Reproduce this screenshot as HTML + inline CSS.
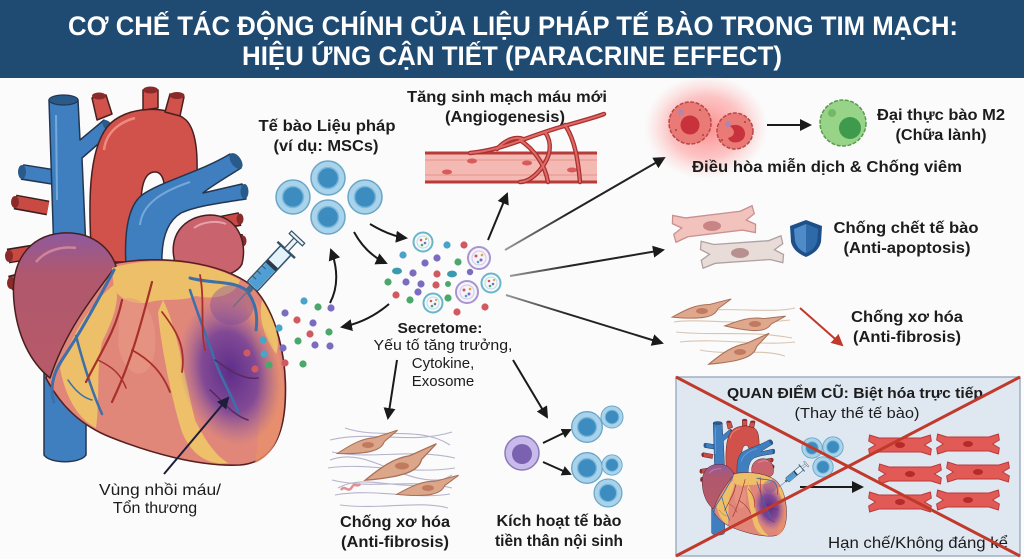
<!DOCTYPE html>
<html><head><meta charset="utf-8">
<style>
html,body{margin:0;padding:0;background:#fbfbfb;}
svg{display:block;}
.t{font-family:"Liberation Sans","Noto Sans CJK SC",sans-serif;fill:#1c1c1c;}
.b{font-weight:bold;}
</style></head>
<body>
<svg width="1024" height="559" viewBox="0 0 1024 559" xmlns="http://www.w3.org/2000/svg">
<defs>
  <marker id="ah" markerWidth="12" markerHeight="12" refX="10" refY="6" orient="auto" markerUnits="userSpaceOnUse"><path d="M0,0 L12,6 L0,12 Z" fill="#1a1a1a"/></marker>
  <marker id="ahs" markerWidth="10" markerHeight="10" refX="8" refY="5" orient="auto" markerUnits="userSpaceOnUse"><path d="M0,0 L10,5 L0,10 Z" fill="#1a1a1a"/></marker>
  <marker id="ahr" markerWidth="12" markerHeight="12" refX="10" refY="6" orient="auto" markerUnits="userSpaceOnUse"><path d="M0,0 L12,6 L0,12 Z" fill="#c0392b"/></marker>
  <marker id="ahn" markerWidth="12" markerHeight="12" refX="10" refY="6" orient="auto" markerUnits="userSpaceOnUse"><path d="M0,0 L12,6 L0,12 Z" fill="#1e1e3a"/></marker>
  <radialGradient id="purp" cx="0.5" cy="0.5" r="0.5">
    <stop offset="0" stop-color="#55288a" stop-opacity="0.95"/>
    <stop offset="0.55" stop-color="#6a3a9c" stop-opacity="0.8"/>
    <stop offset="1" stop-color="#8a5aa8" stop-opacity="0"/>
  </radialGradient>
  <radialGradient id="glow" cx="0.5" cy="0.5" r="0.5">
    <stop offset="0" stop-color="#ff4040" stop-opacity="0.6"/>
    <stop offset="0.6" stop-color="#ff6060" stop-opacity="0.35"/>
    <stop offset="1" stop-color="#ff9090" stop-opacity="0"/>
  </radialGradient>
  <linearGradient id="ra" x1="0" y1="0" x2="0" y2="1">
    <stop offset="0" stop-color="#8e5a9e"/>
    <stop offset="0.28" stop-color="#b0586e"/>
    <stop offset="1" stop-color="#b85a68"/>
  </linearGradient>
  <linearGradient id="fadeA" x1="0" y1="0" x2="1" y2="0">
    <stop offset="0" stop-color="#999"/>
    <stop offset="0.4" stop-color="#222"/>
  </linearGradient>
  <path id="myo" d="M-22,-7 L22,-7 L32,-10 L33,-4 L26,0 L33,4 L32,10 L22,7 L-22,7 L-32,10 L-33,4 L-26,0 L-33,-4 L-32,-10 Z"/>
  <path id="spin" d="M-30,3 C-15,-4 -5,-8 8,-7 L30,-11 L16,-2 C12,6 0,8 -30,3 Z"/>
  <g id="syr">
    <line x1="0" y1="0" x2="24" y2="0" stroke="#6a7080" stroke-width="1.3"/>
    <rect x="22" y="-3" width="7" height="6" fill="#4a6a8a"/>
    <rect x="28" y="-7" width="50" height="14" rx="2" fill="#e4f2fa" stroke="#34546e" stroke-width="1.5"/>
    <rect x="29" y="-6" width="27" height="12" fill="#4f9fd4"/>
    <rect x="55" y="-6.5" width="4" height="13" fill="#2a3a4a"/>
    <line x1="36" y1="-7" x2="36" y2="-2" stroke="#34546e"/><line x1="43" y1="-7" x2="43" y2="-2" stroke="#34546e"/><line x1="50" y1="-7" x2="50" y2="-2" stroke="#34546e"/>
    <line x1="78" y1="-12" x2="78" y2="12" stroke="#34546e" stroke-width="2.5"/>
    <rect x="78" y="-2.5" width="15" height="5" fill="#eef3f7" stroke="#34546e" stroke-width="1.2"/>
    <rect x="92" y="-9" width="3.5" height="18" fill="#eef3f7" stroke="#34546e" stroke-width="1.2"/>
  </g>
  <g id="tcell">
    <circle r="17" fill="#a9d3ea" stroke="#6aa6c8" stroke-width="1.5"/>
    <circle r="10.5" fill="#3d8cc0" stroke="#7ab8dc" stroke-width="1.5"/>
  </g>
  <g id="ves">
    <circle r="9.5" fill="#f6f9fb" stroke="#6ab6c8" stroke-width="2"/>
    <circle r="6" fill="none" stroke="#b6dce6" stroke-width="1"/>
    <circle cx="-2" cy="-2" r="1.3" fill="#d05a60"/><circle cx="2" cy="1" r="1.3" fill="#7b6cc0"/><circle cx="-1" cy="3" r="1.3" fill="#4aa86a"/><circle cx="3" cy="-3" r="1.1" fill="#e0a040"/>
  </g>
  <g id="vesp">
    <circle r="11" fill="#f6f3fb" stroke="#a894d0" stroke-width="2"/>
    <circle r="7" fill="none" stroke="#d0c6e6" stroke-width="1"/>
    <circle cx="-3" cy="-2" r="1.5" fill="#d05a60"/><circle cx="2" cy="2" r="1.5" fill="#7b6cc0"/><circle cx="-1" cy="4" r="1.3" fill="#4aa3c8"/><circle cx="3" cy="-3" r="1.3" fill="#e0a040"/>
  </g>
</defs>

<!-- Header -->
<rect x="0" y="0" width="1024" height="78" fill="#1f4b73"/>
<text class="t b" x="513" y="35" text-anchor="middle" font-size="27" style="fill:#fff" textLength="890" lengthAdjust="spacingAndGlyphs">CƠ CHẾ TÁC ĐỘNG CHÍNH CỦA LIỆU PHÁP TẾ BÀO TRONG TIM MẠCH:</text>
<text class="t b" x="512" y="65" text-anchor="middle" font-size="27" style="fill:#fff" textLength="540" lengthAdjust="spacingAndGlyphs">HIỆU ỨNG CẬN TIẾT (PARACRINE EFFECT)</text>

<!-- ============ HEART ============ -->
<g id="heart" stroke-linejoin="round">
  <!-- IVC -->
  <path d="M44,360 L44,455 C50,464 80,464 86,455 L86,360 Z" fill="#3f7fc0" stroke="#243650" stroke-width="1.5"/>
  <!-- left pulmonary veins / branches -->
  <g stroke="#3a1e1e" stroke-width="15"><line x1="48" y1="208" x2="15" y2="202"/><line x1="45" y1="250" x2="8" y2="256"/><line x1="45" y1="274" x2="10" y2="283"/></g>
  <g stroke="#c94a43" stroke-width="12"><line x1="48" y1="208" x2="16" y2="202"/><line x1="45" y1="250" x2="9" y2="256"/><line x1="45" y1="274" x2="11" y2="283"/></g>
  <ellipse cx="15" cy="202" rx="4" ry="6" fill="#8a2a2a"/><ellipse cx="9" cy="256" rx="4" ry="6" fill="#8a2a2a"/><ellipse cx="11" cy="283" rx="4" ry="6" fill="#8a2a2a"/>
  <line x1="60" y1="178" x2="22" y2="172" stroke="#243650" stroke-width="16"/>
  <line x1="60" y1="178" x2="23" y2="172" stroke="#3f7fc0" stroke-width="13"/>
  <ellipse cx="22" cy="172" rx="4" ry="7" fill="#2a5a8a"/>
  <!-- right pulmonary veins -->
  <g stroke="#3a1e1e" stroke-width="14"><line x1="200" y1="227" x2="240" y2="219"/><line x1="205" y1="242" x2="243" y2="241"/></g>
  <g stroke="#c94a43" stroke-width="11"><line x1="200" y1="227" x2="239" y2="219"/><line x1="205" y1="242" x2="242" y2="241"/></g>
  <ellipse cx="240" cy="219" rx="3.5" ry="5.5" fill="#8a2a2a"/><ellipse cx="243" cy="241" rx="3.5" ry="5.5" fill="#8a2a2a"/>
  <!-- SVC -->
  <path d="M49,100 L78,100 L80,140 L104,120 L112,132 L82,158 L86,250 L54,255 Z" fill="#3f7fc0" stroke="#243650" stroke-width="1.5"/>
  <ellipse cx="63.5" cy="100" rx="14.5" ry="5" fill="#2a5a8a" stroke="#243650" stroke-width="1.2"/>
  <ellipse cx="108" cy="126" rx="4" ry="7" transform="rotate(-40 108 126)" fill="#2a5a8a"/>
  <path d="M56,115 L57,200" stroke="#8bbbe6" stroke-width="2" fill="none" opacity="0.7"/>
  <!-- Aorta -->
  <path d="M92,262 C88,205 88,150 108,126 C125,106 168,104 186,120 C199,133 198,165 196,205 L164,208 C166,185 164,172 155,172 C145,172 141,185 141,205 L141,262 Z" fill="#d0524a" stroke="#4a1e1e" stroke-width="1.5"/>
  <path d="M97,120 L92,98 L106,95 L112,114 Z" fill="#d0524a" stroke="#4a1e1e" stroke-width="1.5"/>
  <ellipse cx="99" cy="96" rx="7" ry="3.5" fill="#8a2a2a"/>
  <path d="M143,110 L143,90 L158,90 L158,108 Z" fill="#d0524a" stroke="#4a1e1e" stroke-width="1.5"/>
  <ellipse cx="150.5" cy="90" rx="7.5" ry="3.5" fill="#8a2a2a"/>
  <path d="M165,112 L170,94 L184,97 L180,116 Z" fill="#d0524a" stroke="#4a1e1e" stroke-width="1.5"/>
  <ellipse cx="177" cy="95.5" rx="7.5" ry="3.5" fill="#8a2a2a"/>
  <path d="M104,150 C106,132 120,122 135,118" stroke="#f08a80" stroke-width="2.5" fill="none"/>
  <!-- Pulmonary trunk -->
  <path d="M126,266 C124,232 128,206 142,195 C162,181 200,172 230,154 L241,168 C222,180 210,187 203,193 L242,184 L246,199 C220,203 196,206 181,213 C166,222 161,242 162,266 Z" fill="#3f7fc0" stroke="#243650" stroke-width="1.5"/>
  <ellipse cx="236" cy="161" rx="5" ry="9" transform="rotate(-35 236 161)" fill="#2a5a8a"/>
  <ellipse cx="244.5" cy="191.5" rx="4" ry="7.5" fill="#2a5a8a"/>
  <path d="M140,225 C142,205 160,192 190,182" stroke="#8bbbe6" stroke-width="2" fill="none" opacity="0.7"/>
  <!-- Left atrium -->
  <path d="M176,266 C166,236 184,216 210,215 C236,215 248,240 242,264 C234,280 194,282 176,266 Z" fill="#c9646e" stroke="#4a1e1e" stroke-width="1.5"/>
  <path d="M194,228 C202,222 216,220 226,224" stroke="#e8a0a8" stroke-width="2" fill="none"/>
  <!-- Ventricles -->
  <path d="M112,264 C160,254 222,262 252,286 C277,311 288,360 285,405 C282,445 266,463 240,465 C200,467 150,453 110,437 C80,425 60,405 46,378 C60,330 86,292 112,264 Z" fill="#e0877a" stroke="#5a1e1e" stroke-width="1.6"/>
  <path d="M240,285 C262,300 280,340 284,390 C285,430 275,455 255,463 C262,420 262,360 240,285 Z" fill="#e9906c" opacity="0.8"/>
  <!-- Right atrium -->
  <path d="M14,302 C10,262 28,236 62,233 C92,231 110,248 116,266 C92,298 66,330 50,378 C30,362 17,335 14,302 Z" fill="url(#ra)" stroke="#4a1e1e" stroke-width="1.5"/>
  <path d="M36,262 C46,250 62,246 76,248" stroke="#d890a0" stroke-width="2.5" fill="none" opacity="0.8"/>
  <!-- fat -->
  <g fill="#efc468" opacity="0.92">
    <path d="M112,268 C150,256 205,260 240,280 C236,296 215,300 196,296 C180,302 165,298 150,302 C135,306 122,300 114,290 Z"/>
    <path d="M60,368 C74,330 94,300 115,284 C121,300 112,322 102,342 C96,370 100,400 96,428 C80,420 66,400 60,368 Z"/>
    <path d="M163,300 C178,330 185,380 195,420 C205,440 215,455 228,463 C206,466 190,452 182,432 C172,402 160,340 158,312 Z"/>
    <path d="M262,300 C276,322 281,342 276,354 C265,338 258,320 262,300 Z"/>
  </g>
  <path d="M120,300 C140,292 158,310 155,350 C150,385 125,380 118,345 Z" fill="#e99a84" opacity="0.6"/>
  <!-- infarct -->
  <ellipse cx="230" cy="372" rx="50" ry="74" transform="rotate(-12 230 372)" fill="url(#purp)"/>
  <ellipse cx="232" cy="305" rx="22" ry="20" fill="#7a4a9c" opacity="0.4"/>
  <!-- coronary vessels -->
  <g fill="none" stroke-linecap="round">
    <path d="M114,270 C98,300 82,330 62,360 C52,375 50,390 54,402" stroke="#3d6fa8" stroke-width="3"/>
    <path d="M76,336 C84,366 92,392 102,414" stroke="#3d6fa8" stroke-width="2.5"/>
    <path d="M190,278 C212,284 232,280 246,290 C256,302 258,316 256,330" stroke="#3d6fa8" stroke-width="3"/>
    <path d="M190,290 C198,315 206,335 212,352 C220,378 232,395 238,412" stroke="#3d6fa8" stroke-width="2.5"/>
    <path d="M122,300 C116,330 102,350 86,382" stroke="#a8302a" stroke-width="2.2"/>
    <path d="M152,282 C142,320 132,360 112,402" stroke="#a8302a" stroke-width="2.2"/>
    <path d="M132,350 C150,360 162,372 170,392" stroke="#a8302a" stroke-width="1.8"/>
    <path d="M162,312 C176,330 186,346 182,372" stroke="#a8302a" stroke-width="1.8"/>
    <path d="M200,275 C205,300 200,330 205,350" stroke="#a8302a" stroke-width="1.8"/>
    <path d="M215,360 C232,372 244,380 258,378" stroke="#5a2a60" stroke-width="1.6"/>
    <path d="M210,390 C222,400 232,415 248,420" stroke="#5a2a60" stroke-width="1.6"/>
    <path d="M98,360 C110,366 120,372 126,388" stroke="#a8302a" stroke-width="1.5"/>
    <path d="M68,380 C76,392 84,398 92,400" stroke="#3d6fa8" stroke-width="1.5"/>
  </g>
</g>

<!-- syringe -->
<use href="#syr" transform="translate(233,307) rotate(-47)"/>

<!-- infarct label -->
<line x1="164" y1="474" x2="228" y2="398" stroke="#1e1e3a" stroke-width="2" marker-end="url(#ahn)"/>
<text class="t" x="160" y="495" text-anchor="middle" font-size="16" textLength="122" lengthAdjust="spacingAndGlyphs">Vùng nhồi máu/</text>
<text class="t" x="155" y="513" text-anchor="middle" font-size="16">Tổn thương</text>

<!-- dots near heart -->
<g>
  <circle cx="304" cy="301" r="3.6" fill="#4aa3c8"/><circle cx="318" cy="307" r="3.6" fill="#4aa86a"/><circle cx="331" cy="308" r="3.6" fill="#7b6cc0"/>
  <circle cx="285" cy="313" r="3.6" fill="#7b6cc0"/><circle cx="297" cy="320" r="3.6" fill="#d05a60"/><circle cx="313" cy="323" r="3.6" fill="#7b6cc0"/>
  <circle cx="279" cy="328" r="3.6" fill="#4aa3c8"/><circle cx="310" cy="334" r="3.6" fill="#d05a60"/><circle cx="329" cy="332" r="3.6" fill="#4aa86a"/>
  <circle cx="263" cy="340" r="3.6" fill="#4aa3c8"/><circle cx="298" cy="341" r="3.6" fill="#4aa86a"/><circle cx="315" cy="345" r="3.6" fill="#7b6cc0"/>
  <circle cx="330" cy="346" r="3.6" fill="#7b6cc0"/><circle cx="283" cy="348" r="3.6" fill="#7b6cc0"/><circle cx="247" cy="353" r="3.6" fill="#d05a60"/>
  <circle cx="264" cy="354" r="3.6" fill="#4aa3c8"/><circle cx="255" cy="369" r="3.6" fill="#d05a60"/><circle cx="269" cy="365" r="3.6" fill="#4aa86a"/>
  <circle cx="285" cy="363" r="3.6" fill="#d05a60"/><circle cx="303" cy="364" r="3.6" fill="#4aa86a"/>
</g>

<!-- Therapeutic cells -->
<text class="t b" x="327" y="131" text-anchor="middle" font-size="16" textLength="137" lengthAdjust="spacingAndGlyphs">Tế bào Liệu pháp</text>
<text class="t b" x="326" y="151" text-anchor="middle" font-size="16" textLength="105" lengthAdjust="spacingAndGlyphs">(ví dụ: MSCs)</text>
<use href="#tcell" transform="translate(293,197)"/>
<use href="#tcell" transform="translate(328,178)"/>
<use href="#tcell" transform="translate(365,197)"/>
<use href="#tcell" transform="translate(328,217)"/>

<!-- curved arrows around cells -->
<g fill="none" stroke="#1a1a1a" stroke-width="2">
  <path d="M370,224 Q390,236 406,238" marker-end="url(#ah)"/>
  <path d="M354,232 Q366,254 386,263" marker-end="url(#ah)"/>
  <path d="M330,303 Q342,280 331,250" marker-end="url(#ah)"/>
  <path d="M389,304 Q368,322 342,327" marker-end="url(#ah)"/>
</g>

<!-- Secretome cloud -->
<g>
  <use href="#ves" transform="translate(423,242)"/>
  <use href="#vesp" transform="translate(479,258)"/>
  <use href="#ves" transform="translate(491,283)"/>
  <use href="#vesp" transform="translate(467,292)"/>
  <use href="#ves" transform="translate(433,303)"/>
  <circle cx="447" cy="245" r="3.6" fill="#4aa3c8"/><circle cx="464" cy="245" r="3.6" fill="#d05a60"/>
  <circle cx="403" cy="255" r="3.6" fill="#4aa3c8"/><circle cx="437" cy="258" r="3.6" fill="#7b6cc0"/>
  <circle cx="425" cy="263" r="3.6" fill="#7b6cc0"/><circle cx="458" cy="262" r="3.6" fill="#4aa86a"/>
  <ellipse cx="397" cy="271" rx="5" ry="3.4" fill="#3a9ab0"/><circle cx="413" cy="273" r="3.6" fill="#7b6cc0"/>
  <circle cx="437" cy="274" r="3.6" fill="#d05a60"/><ellipse cx="452" cy="274" rx="5" ry="3.4" fill="#3a9ab0"/>
  <circle cx="388" cy="282" r="3.6" fill="#4aa86a"/><circle cx="406" cy="282" r="3.6" fill="#7b6cc0"/>
  <circle cx="421" cy="284" r="3.6" fill="#7b6cc0"/><circle cx="436" cy="285" r="3.6" fill="#d05a60"/>
  <circle cx="396" cy="295" r="3.6" fill="#d05a60"/><circle cx="410" cy="300" r="3.6" fill="#4aa86a"/>
  <circle cx="448" cy="298" r="3.6" fill="#4aa86a"/><circle cx="418" cy="292" r="3.6" fill="#7b6cc0"/>
  <circle cx="457" cy="312" r="3.6" fill="#d05a60"/><circle cx="485" cy="307" r="3.6" fill="#d05a60"/>
  <circle cx="470" cy="272" r="3.2" fill="#7b6cc0"/><circle cx="448" cy="284" r="3" fill="#4aa86a"/>
</g>
<text class="t b" x="440" y="333" text-anchor="middle" font-size="15" textLength="85" lengthAdjust="spacingAndGlyphs">Secretome:</text>
<text class="t" x="443" y="350" text-anchor="middle" font-size="15" textLength="139" lengthAdjust="spacingAndGlyphs">Yếu tố tăng trưởng,</text>
<text class="t" x="443" y="368" text-anchor="middle" font-size="15">Cytokine,</text>
<text class="t" x="443" y="386" text-anchor="middle" font-size="15">Exosome</text>

<!-- arrows from secretome -->
<g fill="none" stroke-width="2">
  <line x1="488" y1="240" x2="507" y2="194" stroke="#1a1a1a" marker-end="url(#ah)"/>
  <line x1="505" y1="250" x2="664" y2="158" stroke="url(#fadeA)" marker-end="url(#ah)"/>
  <line x1="510" y1="276" x2="663" y2="250" stroke="url(#fadeA)" marker-end="url(#ah)"/>
  <line x1="506" y1="295" x2="662" y2="343" stroke="url(#fadeA)" marker-end="url(#ah)"/>
  <line x1="397" y1="360" x2="388" y2="418" stroke="#1a1a1a" marker-end="url(#ah)"/>
  <line x1="513" y1="360" x2="547" y2="417" stroke="#1a1a1a" marker-end="url(#ah)"/>
</g>

<!-- Angiogenesis -->
<text class="t b" x="507" y="102" text-anchor="middle" font-size="16" textLength="200" lengthAdjust="spacingAndGlyphs">Tăng sinh mạch máu mới</text>
<text class="t b" x="505" y="122" text-anchor="middle" font-size="16" textLength="120" lengthAdjust="spacingAndGlyphs">(Angiogenesis)</text>
<rect x="425" y="153" width="172" height="29" fill="#f4b9b2"/>
<line x1="425" y1="160" x2="597" y2="160" stroke="#e8a09a" stroke-width="1.5"/>
<line x1="425" y1="175" x2="597" y2="175" stroke="#e8a09a" stroke-width="1.5"/>
<line x1="425" y1="153" x2="597" y2="153" stroke="#b83b3b" stroke-width="3"/>
<line x1="425" y1="182" x2="597" y2="182" stroke="#b83b3b" stroke-width="3"/>
<g fill="#d85a5a"><ellipse cx="447" cy="172" rx="5" ry="2.5"/><ellipse cx="472" cy="161" rx="5" ry="2.5"/><ellipse cx="527" cy="163" rx="5" ry="2.5"/><ellipse cx="572" cy="170" rx="5" ry="2.5"/></g>
<g fill="none" stroke-linecap="round">
  <g stroke="#a83030" stroke-width="4.5">
    <path d="M470,153 C500,150 520,140 545,132 C565,125 588,120 604,114"/>
    <path d="M497,149 C505,140 515,136 523,139"/>
    <path d="M520,140 C535,150 545,165 548,182"/>
    <path d="M545,132 C552,142 552,155 540,170 C533,178 526,182 520,182"/>
    <path d="M565,125 C575,140 578,160 580,182"/>
  </g>
  <g stroke="#e06a66" stroke-width="2">
    <path d="M470,153 C500,150 520,140 545,132 C565,125 588,120 604,114"/>
    <path d="M497,149 C505,140 515,136 523,139"/>
    <path d="M520,140 C535,150 545,165 548,182"/>
    <path d="M545,132 C552,142 552,155 540,170 C533,178 526,182 520,182"/>
    <path d="M565,125 C575,140 578,160 580,182"/>
  </g>
</g>

<!-- Immune -->
<ellipse cx="706" cy="127" rx="62" ry="52" fill="url(#glow)"/>
<circle cx="690" cy="123" r="21" fill="#ea7a76" stroke="#b84848" stroke-width="1.5" stroke-dasharray="4 1.5"/>
<circle cx="690" cy="125" r="9.5" fill="#c8323c"/>
<circle cx="681" cy="112" r="3" fill="#9a8ac8" opacity="0.7"/>
<circle cx="735" cy="131" r="18" fill="#ea7a76" stroke="#b84848" stroke-width="1.5" stroke-dasharray="4 1.5"/>
<path d="M730,126 C740,122 748,130 744,138 C740,144 730,144 728,138 C735,136 736,131 730,126 Z" fill="#c8323c"/>
<circle cx="728" cy="124" r="3" fill="#9a8ac8" opacity="0.7"/>
<g fill="#a84040"><circle cx="676" cy="130" r="1"/><circle cx="700" cy="110" r="1"/><circle cx="703" cy="135" r="1"/><circle cx="722" cy="140" r="1"/><circle cx="745" cy="122" r="1"/></g>
<line x1="767" y1="125" x2="810" y2="125" stroke="#1a1a1a" stroke-width="2" marker-end="url(#ah)"/>
<circle cx="843" cy="123" r="23" fill="#98d488" stroke="#5a9a50" stroke-width="1.5" stroke-dasharray="4 1.5"/>
<circle cx="850" cy="128" r="11" fill="#3e9a4c"/>
<circle cx="832" cy="113" r="4" fill="#72b866"/>
<text class="t b" x="941" y="120" text-anchor="middle" font-size="16" textLength="128" lengthAdjust="spacingAndGlyphs">Đại thực bào M2</text>
<text class="t b" x="941" y="140" text-anchor="middle" font-size="16" textLength="91" lengthAdjust="spacingAndGlyphs">(Chữa lành)</text>
<text class="t b" x="827" y="172" text-anchor="middle" font-size="16" textLength="270" lengthAdjust="spacingAndGlyphs">Điều hòa miễn dịch &amp; Chống viêm</text>

<!-- Anti-apoptosis -->
<use href="#myo" transform="translate(714,224) rotate(-7) scale(1.25,1.35)" fill="#f2c2bd" stroke="#c89090" stroke-width="1"/>
<ellipse cx="712" cy="226" rx="9" ry="5" fill="#c98585"/>
<use href="#myo" transform="translate(742,252) rotate(-4) scale(1.25,1.35)" fill="#e8dcd8" stroke="#b0a0a0" stroke-width="1"/>
<ellipse cx="740" cy="253" rx="9" ry="5" fill="#b89090"/>
<g transform="translate(806,238)">
  <path d="M0,-18 L16,-12 L15,4 C13,12 7,16 0,19 C-7,16 -13,12 -15,4 L-16,-12 Z" fill="#1f4f88"/>
  <path d="M0,-14 L12,-9 L11,3 C9,10 5,13 0,15 C-5,13 -9,10 -11,3 L-12,-9 Z" fill="#4e8bc8"/>
  <path d="M0,-14 L12,-9 L11,3 C9,10 5,13 0,15 Z" fill="#2e6aa8"/>
</g>
<text class="t b" x="906" y="233" text-anchor="middle" font-size="16" textLength="145" lengthAdjust="spacingAndGlyphs">Chống chết tế bào</text>
<text class="t b" x="907" y="253" text-anchor="middle" font-size="16" textLength="127" lengthAdjust="spacingAndGlyphs">(Anti-apoptosis)</text>

<!-- Anti-fibrosis right -->
<g fill="none" stroke="#d9c4b2" stroke-width="1.1">
  <path d="M674,322 C700,318 740,326 790,320"/><path d="M676,332 C710,336 750,330 792,338"/>
  <path d="M680,342 C720,338 760,346 795,342"/><path d="M690,312 C730,306 770,314 795,308"/>
  <path d="M700,350 C730,356 760,348 785,356"/>
</g>
<g fill="#dfa88c" stroke="#a87058" stroke-width="1">
  <use href="#spin" transform="translate(702,312) rotate(-4)"/>
  <use href="#spin" transform="translate(755,325) rotate(4)"/>
  <use href="#spin" transform="translate(740,353) rotate(-14) scale(1.1)"/>
</g>
<g fill="#c07a60"><ellipse cx="702" cy="311" rx="6" ry="3"/><ellipse cx="755" cy="324" rx="6" ry="3"/><ellipse cx="740" cy="352" rx="6" ry="3"/></g>
<line x1="800" y1="308" x2="842" y2="345" stroke="#c0392b" stroke-width="2" marker-end="url(#ahr)"/>
<text class="t b" x="907" y="322" text-anchor="middle" font-size="16" textLength="112" lengthAdjust="spacingAndGlyphs">Chống xơ hóa</text>
<text class="t b" x="907" y="342" text-anchor="middle" font-size="16" textLength="108" lengthAdjust="spacingAndGlyphs">(Anti-fibrosis)</text>

<!-- Bottom fibrosis -->
<g fill="none" stroke="#b6b4cc" stroke-width="1.1">
  <path d="M330,440 C370,430 410,445 452,432"/><path d="M332,452 C372,460 412,448 455,458"/>
  <path d="M328,468 C368,462 410,475 455,468"/><path d="M332,480 C372,490 412,478 452,488"/>
  <path d="M335,495 C375,488 415,500 450,494"/><path d="M340,505 C380,510 420,500 448,508"/>
  <path d="M345,428 C380,440 420,425 450,445"/><path d="M330,460 C370,445 405,490 450,478"/>
  <path d="M338,488 C370,470 410,500 452,475"/>
</g>
<g fill="#dba68a" stroke="#a87058" stroke-width="1">
  <use href="#spin" transform="translate(368,446) rotate(-8) scale(1.05)"/>
  <use href="#spin" transform="translate(402,467) rotate(-14) scale(1.3)"/>
  <use href="#spin" transform="translate(428,489) rotate(-4) scale(1.05)"/>
</g>
<g fill="#c07a60"><ellipse cx="368" cy="445" rx="6" ry="3"/><ellipse cx="402" cy="466" rx="7" ry="3.5"/><ellipse cx="428" cy="488" rx="6" ry="3"/></g>
<path d="M341,490 C345,484 348,494 352,487 C355,482 357,488 360,484" stroke="#e09090" stroke-width="2.5" fill="none"/>
<text class="t b" x="395" y="527" text-anchor="middle" font-size="16" textLength="110" lengthAdjust="spacingAndGlyphs">Chống xơ hóa</text>
<text class="t b" x="395" y="547" text-anchor="middle" font-size="16" textLength="108" lengthAdjust="spacingAndGlyphs">(Anti-fibrosis)</text>

<!-- Progenitor -->
<circle cx="522" cy="453" r="17" fill="#c8baea" stroke="#8a7ab8" stroke-width="1.5"/>
<circle cx="522" cy="454" r="10" fill="#7a62b0"/>
<line x1="543" y1="443" x2="570" y2="430" stroke="#1a1a1a" stroke-width="2" marker-end="url(#ahs)"/>
<line x1="543" y1="462" x2="570" y2="474" stroke="#1a1a1a" stroke-width="2" marker-end="url(#ahs)"/>
<g>
  <g transform="translate(587,427) scale(0.9)"><use href="#tcell"/></g>
  <g transform="translate(612,417) scale(0.65)"><use href="#tcell"/></g>
  <g transform="translate(587,468) scale(0.9)"><use href="#tcell"/></g>
  <g transform="translate(612,465) scale(0.6)"><use href="#tcell"/></g>
  <g transform="translate(608,493) scale(0.82)"><use href="#tcell"/></g>
</g>
<text class="t b" x="559" y="526" text-anchor="middle" font-size="16" textLength="125" lengthAdjust="spacingAndGlyphs">Kích hoạt tế bào</text>
<text class="t b" x="559" y="546" text-anchor="middle" font-size="16" textLength="128" lengthAdjust="spacingAndGlyphs">tiền thân nội sinh</text>

<!-- Old view box -->
<rect x="676" y="377" width="344" height="179" fill="#dfe8f1" stroke="#9db0c3" stroke-width="1.5"/>
<text class="t b" x="855" y="398" text-anchor="middle" font-size="15" textLength="256" lengthAdjust="spacingAndGlyphs">QUAN ĐIỂM CŨ: Biệt hóa trực tiếp</text>
<text class="t" x="857" y="418" text-anchor="middle" font-size="15" textLength="125" lengthAdjust="spacingAndGlyphs">(Thay thế tế bào)</text>
<use href="#heart" transform="translate(698,392) scale(0.31)"/>
<use href="#syr" transform="translate(779,487) rotate(-40) scale(0.38)"/>
<g transform="translate(812,448) scale(0.6)"><use href="#tcell"/></g>
<g transform="translate(833,447) scale(0.6)"><use href="#tcell"/></g>
<g transform="translate(823,467) scale(0.6)"><use href="#tcell"/></g>
<line x1="800" y1="487" x2="862" y2="487" stroke="#1a1a1a" stroke-width="2" marker-end="url(#ah)"/>
<g fill="#e25a55" stroke="#b83a3a" stroke-width="1">
  <use href="#myo" transform="translate(900,445) scale(0.95,1)"/>
  <use href="#myo" transform="translate(968,444) scale(0.95,1)"/>
  <use href="#myo" transform="translate(910,474) scale(0.95,1)"/>
  <use href="#myo" transform="translate(978,472) scale(0.95,1)"/>
  <use href="#myo" transform="translate(900,502) scale(0.95,1)"/>
  <use href="#myo" transform="translate(968,500) scale(0.95,1)"/>
</g>
<g fill="#b52a2a"><ellipse cx="900" cy="445" rx="5" ry="3"/><ellipse cx="968" cy="444" rx="5" ry="3"/><ellipse cx="910" cy="474" rx="5" ry="3"/><ellipse cx="978" cy="472" rx="5" ry="3"/><ellipse cx="900" cy="502" rx="5" ry="3"/><ellipse cx="968" cy="500" rx="5" ry="3"/></g>
<text class="t" x="918" y="548" text-anchor="middle" font-size="16" textLength="180" lengthAdjust="spacingAndGlyphs">Hạn chế/Không đáng kể</text>
<line x1="676" y1="377" x2="1020" y2="556" stroke="#c0392b" stroke-width="3"/>
<line x1="1020" y1="377" x2="676" y2="556" stroke="#c0392b" stroke-width="3"/>
</svg>
</body></html>
